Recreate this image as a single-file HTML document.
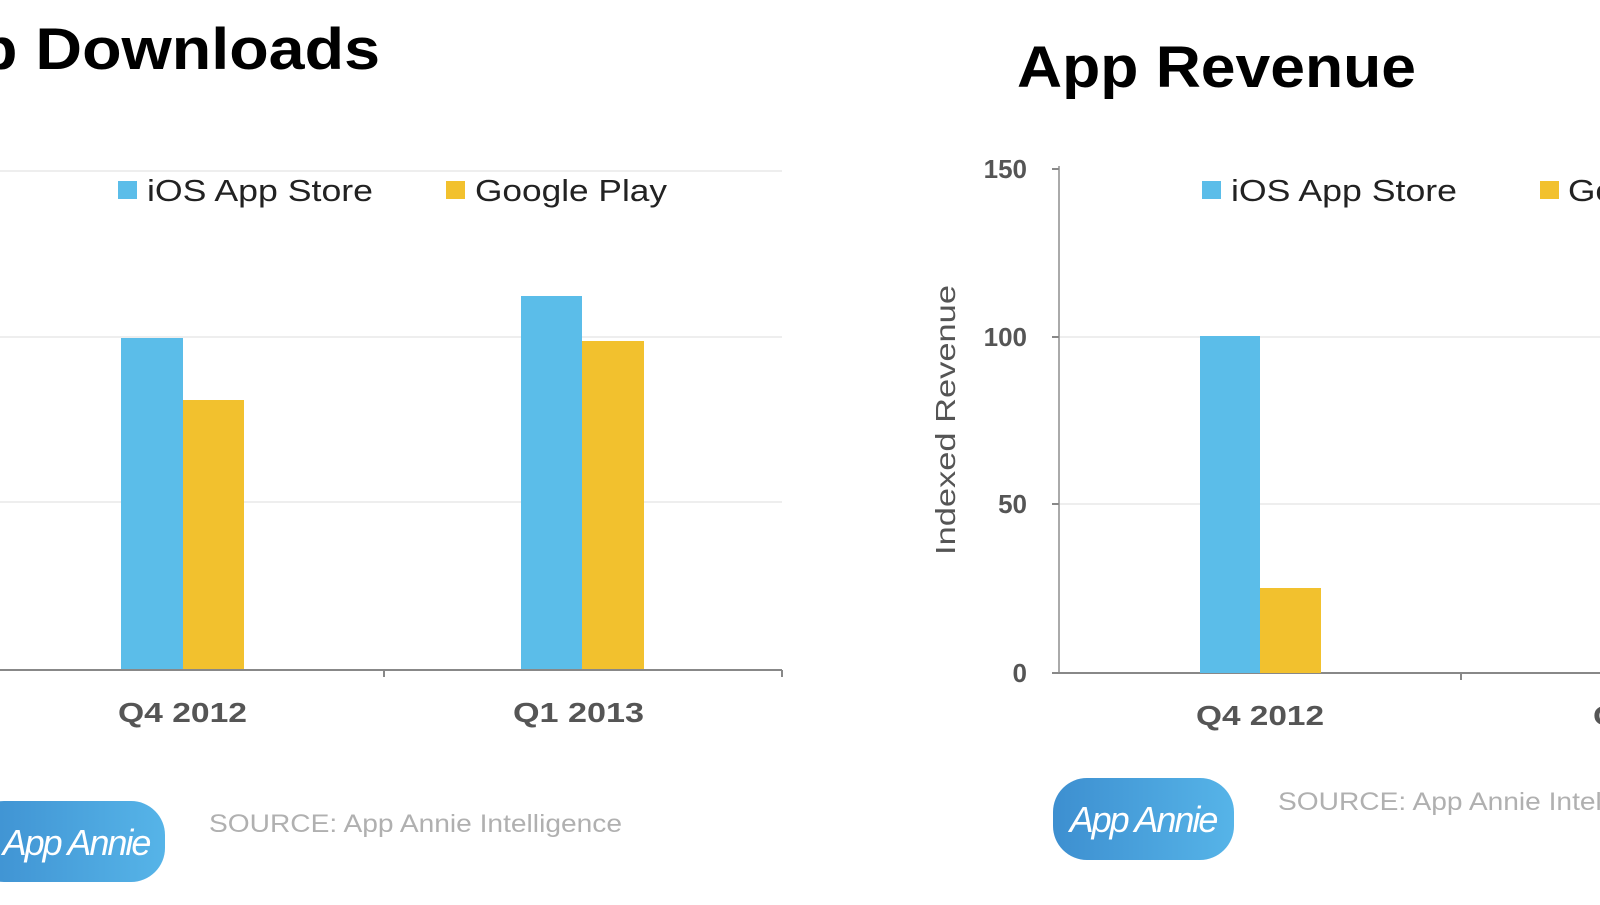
<!DOCTYPE html><html><head><meta charset="utf-8"><style>
body{margin:0;width:1600px;height:900px;overflow:hidden;background:#fff;font-family:"Liberation Sans",sans-serif}
</style></head><body>
<svg width="1600" height="900" xmlns="http://www.w3.org/2000/svg" font-family="Liberation Sans, sans-serif">
<defs><linearGradient id="g" x1="0" y1="0" x2="1" y2="0"><stop offset="0" stop-color="#3d8fd0"/><stop offset="1" stop-color="#56b4e8"/></linearGradient></defs>
<!-- Left -->
<text x="-22" y="69" font-size="58" font-weight="bold" fill="#000" textLength="402" lengthAdjust="spacingAndGlyphs">p Downloads</text>
<g stroke="#eee" stroke-width="2"><line x1="0" y1="171" x2="782" y2="171"/><line x1="0" y1="337" x2="782" y2="337"/><line x1="0" y1="502" x2="782" y2="502"/></g>
<rect x="121" y="338" width="62" height="331" fill="#5bbde9"/>
<rect x="183" y="400" width="61" height="269" fill="#f2c12e"/>
<rect x="521" y="296" width="61" height="373" fill="#5bbde9"/>
<rect x="582" y="341" width="62" height="328" fill="#f2c12e"/>
<line x1="0" y1="670" x2="782" y2="670" stroke="#888" stroke-width="2"/>
<line x1="384" y1="670" x2="384" y2="677" stroke="#888" stroke-width="2"/><line x1="782" y1="670" x2="782" y2="677" stroke="#888" stroke-width="2"/>
<rect x="118" y="181" width="19" height="18" fill="#5bbde9"/>
<text x="147" y="201" font-size="31" fill="#222" textLength="226" lengthAdjust="spacingAndGlyphs">iOS App Store</text>
<rect x="446" y="181" width="19" height="18" fill="#f2c12e"/>
<text x="475" y="201" font-size="31" fill="#222" textLength="192" lengthAdjust="spacingAndGlyphs">Google Play</text>
<text x="118" y="722" font-size="28" font-weight="bold" fill="#555" textLength="129" lengthAdjust="spacingAndGlyphs">Q4 2012</text>
<text x="513" y="722" font-size="28" font-weight="bold" fill="#555" textLength="131" lengthAdjust="spacingAndGlyphs">Q1 2013</text>
<rect x="-30" y="801" width="195" height="81" rx="34" fill="url(#g)"/>
<text x="76" y="855" font-size="36" font-style="italic" fill="#fff" text-anchor="middle" letter-spacing="-2">App Annie</text>
<text x="209" y="832" font-size="25" fill="#b0b0b0" textLength="413" lengthAdjust="spacingAndGlyphs">SOURCE: App Annie Intelligence</text>
<!-- Right -->
<text x="1017" y="87" font-size="58" font-weight="bold" fill="#000" textLength="399" lengthAdjust="spacingAndGlyphs">App Revenue</text>
<g stroke="#eee" stroke-width="2"><line x1="1059" y1="337" x2="1600" y2="337"/><line x1="1059" y1="504" x2="1600" y2="504"/></g>
<line x1="1059" y1="166" x2="1059" y2="673" stroke="#aaa" stroke-width="2"/>
<g stroke="#888" stroke-width="2"><line x1="1052" y1="169" x2="1059" y2="169"/><line x1="1052" y1="337" x2="1059" y2="337"/><line x1="1052" y1="504" x2="1059" y2="504"/><line x1="1052" y1="673" x2="1600" y2="673"/><line x1="1461" y1="673" x2="1461" y2="680"/></g>
<g font-size="26" font-weight="bold" fill="#555" text-anchor="end"><text x="1027" y="178">150</text><text x="1027" y="346">100</text><text x="1027" y="513">50</text><text x="1027" y="682">0</text></g>
<text transform="translate(955,420) rotate(-90)" font-size="28" fill="#555" text-anchor="middle" textLength="270" lengthAdjust="spacingAndGlyphs">Indexed Revenue</text>
<rect x="1200" y="336" width="60" height="337" fill="#5bbde9"/>
<rect x="1260" y="588" width="61" height="85" fill="#f2c12e"/>
<rect x="1202" y="181" width="19" height="18" fill="#5bbde9"/>
<text x="1231" y="201" font-size="31" fill="#222" textLength="226" lengthAdjust="spacingAndGlyphs">iOS App Store</text>
<rect x="1540" y="181" width="19" height="18" fill="#f2c12e"/>
<text x="1568" y="201" font-size="31" fill="#222" textLength="192" lengthAdjust="spacingAndGlyphs">Google Play</text>
<text x="1196" y="725" font-size="28" font-weight="bold" fill="#555" textLength="128" lengthAdjust="spacingAndGlyphs">Q4 2012</text>
<text x="1593" y="725" font-size="28" font-weight="bold" fill="#555" textLength="131" lengthAdjust="spacingAndGlyphs">Q1 2013</text>
<rect x="1053" y="778" width="181" height="82" rx="34" fill="url(#g)"/>
<text x="1143" y="832" font-size="36" font-style="italic" fill="#fff" text-anchor="middle" letter-spacing="-2">App Annie</text>
<text x="1278" y="810" font-size="25" fill="#b0b0b0" textLength="413" lengthAdjust="spacingAndGlyphs">SOURCE: App Annie Intelligence</text>
</svg>
</body></html>
